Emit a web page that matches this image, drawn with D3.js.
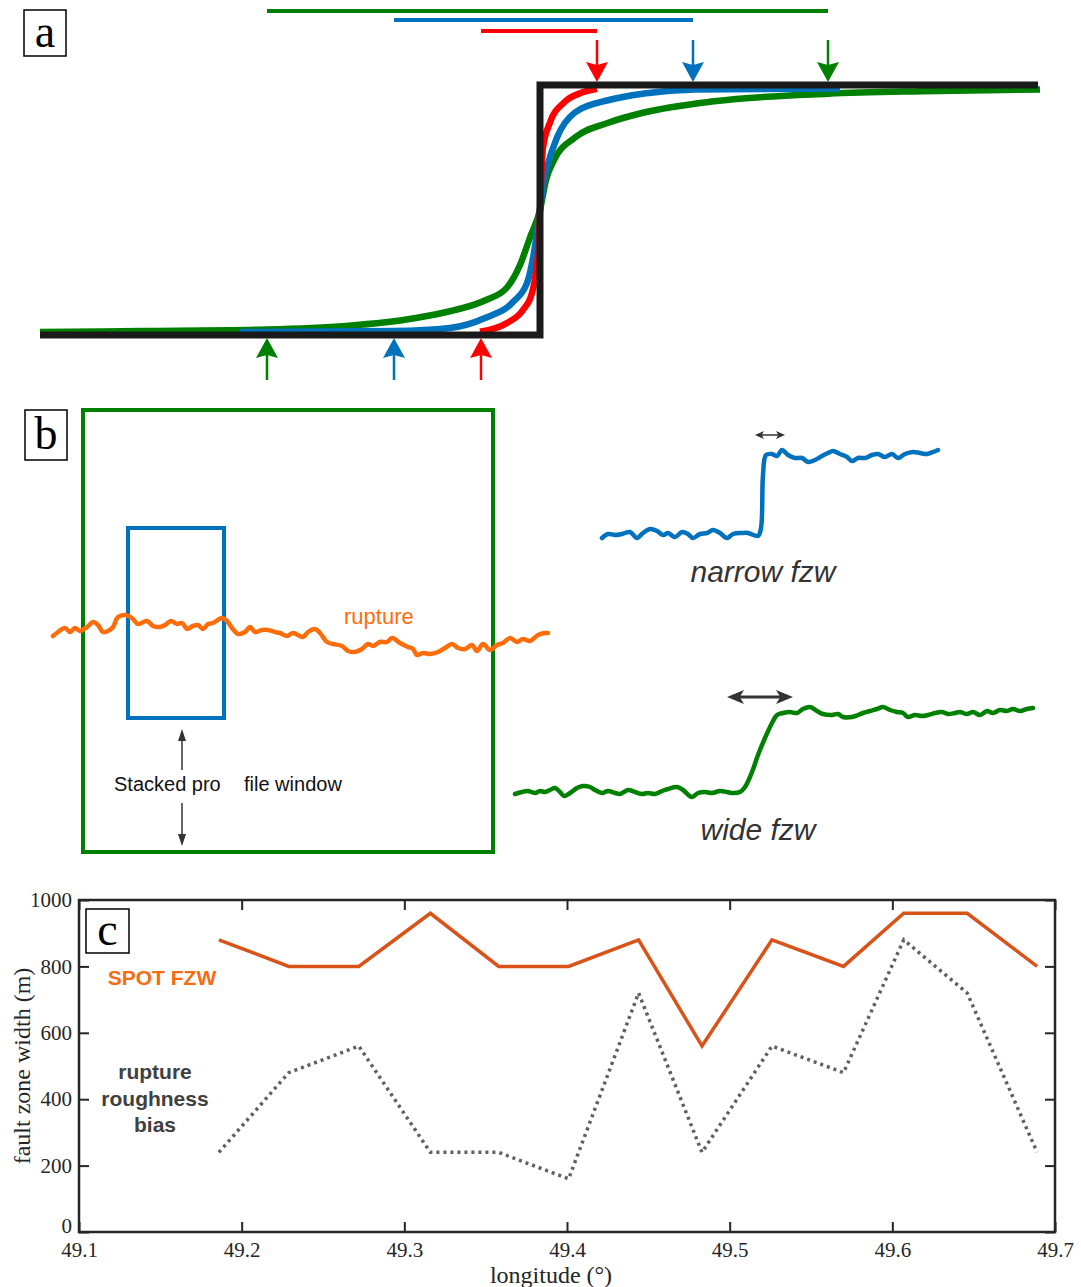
<!DOCTYPE html>
<html>
<head>
<meta charset="utf-8">
<script src="https://cdnjs.cloudflare.com/ajax/libs/d3/7.8.5/d3.min.js"></script>
<style>
  body { margin: 0; background: #fff; }
  svg { display: block; }
</style>
</head>
<body>
<div id="chart"></div>
<script>
// ---- panel a: ideal step and three smoothed versions [distance from fault, normalised offset]
var stepProfile = [[-500, 0], [0, 0], [0, 1], [498, 1]];
var greenCurve = [[-500, 0.012], [-400, 0.016], [-273, 0.022], [-194, 0.036], [-124, 0.068], [-89, 0.096],
  [-54, 0.14], [-33, 0.19], [-20, 0.28], [-10, 0.39], [0, 0.5], [6, 0.62], [14, 0.70], [35, 0.79],
  [69, 0.85], [104, 0.89], [174, 0.935], [288, 0.965], [382, 0.975], [500, 0.982]];
var blueCurve = [[-300, 0.012], [-146, 0.016], [-90, 0.028], [-55, 0.068], [-27, 0.132], [-13, 0.208],
  [-6, 0.33], [0, 0.5], [3, 0.6], [7, 0.67], [17, 0.79], [35, 0.89], [69, 0.94], [104, 0.966],
  [155, 0.982], [300, 0.986]];
var redCurve = [[-60, 0.013], [-33, 0.048], [-17, 0.10], [-8, 0.168], [-4, 0.25], [-1.5, 0.35], [0, 0.5],
  [1.5, 0.65], [3, 0.75], [10, 0.85], [24, 0.93], [42, 0.97], [57, 0.985]];
var zoneStart = [-59, -146, -273];
var zoneEnd = [57, 153, 288];
var zoneColors = ['#ff0000', '#0072bd', '#008000'];

// ---- panel b: rough profiles [distance, height]
var ruptureProfile = [[3, 4], [8, 8], [15, 12], [20, 8], [25, 12], [30, 9], [37, 13], [43, 18], [48, 15],
  [53, 8], [58, 9], [63, 13], [68, 23], [76, 25], [82, 22], [88, 16], [97, 19], [103, 14], [110, 13],
  [115, 15], [121, 19], [127, 16], [132, 17], [137, 11], [143, 14], [148, 15], [153, 11], [158, 16],
  [163, 17], [172, 22], [177, 19], [182, 12], [188, 6], [195, 8], [200, 13], [205, 8], [212, 10],
  [218, 10], [225, 8], [230, 7], [237, 4], [243, 7], [253, 3], [258, 8], [265, 11], [270, 7], [277, -2],
  [283, -4], [292, -6], [298, -11], [305, -12], [312, -9], [318, -4], [323, -6], [330, -2], [337, -2],
  [342, 2], [350, -3], [358, -7], [363, -9], [367, -15], [373, -13], [380, -14], [388, -12], [395, -8],
  [402, -4], [408, -8], [415, -9], [422, -5], [427, -11], [433, -4], [440, -10], [447, -5], [453, -3],
  [460, 2], [467, -2], [473, 1], [480, -1], [488, 5], [495, 7], [498, 7]];
var narrowProfile = [[2, 2], [8, 6], [15, 5], [22, 6], [30, 8], [37, 2], [43, 7], [50, 11], [57, 9],
  [63, 5], [68, 7], [75, 3], [82, 8], [88, 6], [93, 2], [100, 6], [107, 7], [113, 10], [120, 7],
  [127, 2], [133, 6], [142, 7], [148, 7], [158, 4], [161, 12], [163, 65], [166, 85], [172, 86],
  [177, 84], [182, 90], [188, 85], [195, 82], [202, 82], [208, 78], [215, 80], [222, 84], [228, 87],
  [233, 89], [240, 86], [247, 83], [252, 79], [258, 82], [265, 82], [272, 85], [278, 86], [285, 83],
  [292, 86], [298, 82], [305, 86], [313, 88], [320, 87], [327, 86], [333, 88], [338, 90]];
var wideProfile = [[5, 6], [12, 8], [18, 9], [25, 7], [30, 9], [35, 8], [40, 10], [45, 12], [50, 8],
  [54, 4], [60, 7], [67, 12], [73, 14], [80, 13], [85, 10], [92, 7], [98, 9], [105, 7], [110, 6],
  [118, 10], [125, 8], [132, 6], [138, 7], [145, 6], [152, 9], [158, 11], [167, 13], [173, 10],
  [182, 3], [188, 7], [195, 8], [202, 7], [210, 9], [217, 8], [223, 7], [230, 8], [235, 13], [242, 28],
  [248, 45], [255, 62], [262, 77], [267, 85], [273, 87], [280, 88], [287, 87], [293, 91], [300, 93],
  [307, 89], [313, 86], [322, 85], [328, 86], [333, 83], [342, 83], [348, 85], [353, 87], [360, 89],
  [367, 91], [373, 93], [380, 90], [387, 88], [393, 87], [398, 83], [405, 85], [412, 84], [418, 85],
  [425, 87], [432, 88], [438, 86], [445, 87], [450, 88], [457, 86], [463, 88], [470, 85], [477, 89],
  [483, 87], [490, 90], [497, 89], [503, 91], [510, 89], [517, 91], [523, 92]];
// windows along the rupture [start, end, top, bottom]
var wideWindow = [33, 443, 230, -212];
var narrowWindow = [78, 174, 112, -78];

// ---- panel c
var longitude = [49.186, 49.229, 49.272, 49.316, 49.358, 49.401, 49.444, 49.483, 49.526, 49.570, 49.607, 49.646, 49.689];
var spotFzw = [880, 800, 800, 960, 800, 800, 880, 560, 880, 800, 960, 960, 800];
var roughnessBias = [240, 480, 560, 240, 240, 160, 720, 240, 560, 480, 880, 720, 240];
var xTicks = [49.1, 49.2, 49.3, 49.4, 49.5, 49.6, 49.7];
var yTicks = [0, 200, 400, 600, 800, 1000];

var width = 1081, height = 1287;
var svg = d3.select('#chart').append('svg')
  .attr('width', width)
  .attr('height', height)
  .style('font-family', 'Liberation Sans, Arial, sans-serif');

function panelLabel(x, y, w, h, txt) {
  svg.append('rect').attr('x', x).attr('y', y).attr('width', w).attr('height', h)
     .attr('fill', '#fff').attr('stroke', '#000').attr('stroke-width', 1.5);
  svg.append('text').attr('x', x + w / 2).attr('y', y + h / 2 + 14)
     .attr('text-anchor', 'middle')
     .style('font-family', 'Liberation Serif, Times New Roman, serif')
     .style('font-size', '46px')
     .text(txt);
}

function hDoubleArrow(g, x1, x2, y, head, half, sw, color) {
  g.append('line').attr('x1', x1 + head * 0.6).attr('x2', x2 - head * 0.6).attr('y1', y).attr('y2', y)
   .attr('stroke', color).attr('stroke-width', sw);
  g.append('path').attr('fill', color)
   .attr('d', 'M' + x1 + ',' + y + 'L' + (x1 + head) + ',' + (y - half) + 'L' + (x1 + head * 0.75) + ',' + y +
              'L' + (x1 + head) + ',' + (y + half) + 'Z');
  g.append('path').attr('fill', color)
   .attr('d', 'M' + x2 + ',' + y + 'L' + (x2 - head) + ',' + (y - half) + 'L' + (x2 - head * 0.75) + ',' + y +
              'L' + (x2 - head) + ',' + (y + half) + 'Z');
}

// ================= panel a =================
var xA = d3.scaleLinear().domain([-500, 500]).range([40, 1040]);
var yA = d3.scaleLinear().domain([0, 1]).range([335, 85]);
var lineA = d3.line().x(function(d) { return xA(d[0]); }).y(function(d) { return yA(d[1]); });
var smoothA = d3.line().x(function(d) { return xA(d[0]); }).y(function(d) { return yA(d[1]); })
  .curve(d3.curveMonotoneX);

var gA = svg.append('g');
[greenCurve, blueCurve, redCurve].forEach(function(c, i) {
  gA.append('path').attr('d', smoothA(c)).attr('fill', 'none')
    .attr('stroke', [zoneColors[2], zoneColors[1], zoneColors[0]][i]).attr('stroke-width', 6.5);
});
gA.append('path').attr('d', lineA(stepProfile)).attr('fill', 'none')
  .attr('stroke', '#1a1a1a').attr('stroke-width', 7).attr('stroke-linejoin', 'miter');

var barY = [31, 20, 11];
zoneColors.forEach(function(col, i) {
  var x1 = xA(zoneStart[i]), x2 = xA(zoneEnd[i]);
  gA.append('line').attr('x1', x1).attr('x2', x2).attr('y1', barY[i]).attr('y2', barY[i])
    .attr('stroke', col).attr('stroke-width', 4);
  // down arrow at the top end of the zone
  gA.append('line').attr('x1', x2).attr('x2', x2).attr('y1', 40).attr('y2', 66)
    .attr('stroke', col).attr('stroke-width', 2.5);
  gA.append('path').attr('fill', col)
    .attr('d', 'M' + (x2 - 11) + ',62L' + x2 + ',65L' + (x2 + 11) + ',62L' + x2 + ',82Z');
  // up arrow at the bottom end of the zone
  gA.append('line').attr('x1', x1).attr('x2', x1).attr('y1', 380).attr('y2', 354)
    .attr('stroke', col).attr('stroke-width', 2.5);
  gA.append('path').attr('fill', col)
    .attr('d', 'M' + (x1 - 11) + ',358L' + x1 + ',355L' + (x1 + 11) + ',358L' + x1 + ',338Z');
});
panelLabel(24, 10, 42, 46, 'a');

// ================= panel b =================
var xR = d3.scaleLinear().domain([0, 500]).range([50, 550]);
var yR = d3.scaleLinear().domain([-20, 30]).range([660, 610]);
var xN = d3.scaleLinear().domain([0, 340]).range([600, 940]);
var yN = d3.scaleLinear().domain([0, 90]).range([540, 450]);
var xW = d3.scaleLinear().domain([0, 525]).range([510, 1035]);
var yW = d3.scaleLinear().domain([0, 100]).range([800, 700]);

var gB = svg.append('g');
function windowRect(w, col) {
  gB.append('rect').attr('x', xR(w[0])).attr('y', yR(w[2]))
    .attr('width', xR(w[1]) - xR(w[0])).attr('height', yR(w[3]) - yR(w[2]))
    .attr('fill', 'none').attr('stroke', col).attr('stroke-width', 4);
}
windowRect(wideWindow, '#008000');
windowRect(narrowWindow, '#0072bd');

function roughLine(data, sx, sy, col) {
  gB.append('path')
    .attr('d', d3.line().x(function(d) { return sx(d[0]); }).y(function(d) { return sy(d[1]); })
      .curve(d3.curveCatmullRom)(data))
    .attr('fill', 'none').attr('stroke', col).attr('stroke-width', 4.5)
    .attr('stroke-linejoin', 'round').attr('stroke-linecap', 'round');
}
roughLine(ruptureProfile, xR, yR, '#ff6d0a');
roughLine(narrowProfile, xN, yN, '#0072bd');
roughLine(wideProfile, xW, yW, '#008000');

gB.append('text').attr('x', 344).attr('y', 624).attr('fill', '#ff6d0a')
  .style('font-size', '22px').text('rupture');

hDoubleArrow(gB, xN(155), xN(185), yN(105), 9, 4, 1.5, '#333');
hDoubleArrow(gB, xW(217), xW(283), yW(103), 17, 7, 3, '#333');

gB.append('text').attr('x', 763).attr('y', 582).attr('text-anchor', 'middle')
  .attr('fill', '#333').style('font-size', '30px').style('font-style', 'italic').text('narrow fzw');
gB.append('text').attr('x', 758).attr('y', 840).attr('text-anchor', 'middle')
  .attr('fill', '#333').style('font-size', '30px').style('font-style', 'italic').text('wide fzw');

// stacked profile window arrow
var ax = 182;
gB.append('line').attr('x1', ax).attr('x2', ax).attr('y1', 736).attr('y2', 770)
  .attr('stroke', '#333').attr('stroke-width', 1.5);
gB.append('path').attr('fill', '#333').attr('d', 'M' + (ax - 4) + ',741L' + ax + ',729L' + (ax + 4) + ',741Z');
gB.append('line').attr('x1', ax).attr('x2', ax).attr('y1', 803).attr('y2', 840)
  .attr('stroke', '#333').attr('stroke-width', 1.5);
gB.append('path').attr('fill', '#333').attr('d', 'M' + (ax - 4) + ',834L' + ax + ',846L' + (ax + 4) + ',834Z');
gB.append('text').attr('x', 114).attr('y', 791).attr('fill', '#111').style('font-size', '20px').text('Stacked pro');
gB.append('text').attr('x', 244).attr('y', 791).attr('fill', '#111').style('font-size', '20px').text('file window');

panelLabel(25, 410, 42, 50, 'b');

// ================= panel c =================
var xC = d3.scaleLinear().domain([49.1, 49.7]).range([79, 1055]);
var yC = d3.scaleLinear().domain([0, 1000]).range([1232, 900]);
var gC = svg.append('g');

function styleAxis(g) {
  g.select('.domain').remove();
  g.selectAll('.tick line').attr('stroke', '#262626').attr('stroke-width', 2);
  g.selectAll('.tick text').attr('fill', '#262626')
   .style('font-family', 'Liberation Serif, Times New Roman, serif').style('font-size', '21px');
}
gC.append('g').attr('transform', 'translate(0,1232)')
  .call(d3.axisBottom(xC).tickValues(xTicks).tickFormat(d3.format('.1f')).tickSizeInner(-10).tickSizeOuter(0).tickPadding(10))
  .call(styleAxis);
gC.append('g').attr('transform', 'translate(0,900)')
  .call(d3.axisTop(xC).tickValues(xTicks).tickFormat('').tickSizeInner(-10).tickSizeOuter(0))
  .call(styleAxis);
gC.append('g').attr('transform', 'translate(79,0)')
  .call(d3.axisLeft(yC).tickValues(yTicks).tickFormat(d3.format('d')).tickSizeInner(-10).tickSizeOuter(0).tickPadding(7))
  .call(styleAxis)
  .call(function(g) {
    // lift the "0" label a little so it clears the first longitude label
    g.selectAll('.tick text').filter(function(d) { return d === 0; }).attr('dy', '0.02em');
  });
gC.append('g').attr('transform', 'translate(1055,0)')
  .call(d3.axisRight(yC).tickValues(yTicks).tickFormat('').tickSizeInner(-10).tickSizeOuter(0))
  .call(styleAxis);
gC.append('rect').attr('x', 79).attr('y', 900).attr('width', 976).attr('height', 332)
  .attr('fill', 'none').attr('stroke', '#262626').attr('stroke-width', 2.5);

var lineC = d3.line().x(function(d, i) { return xC(longitude[i]); }).y(function(d) { return yC(d); });
gC.append('path').attr('d', lineC(roughnessBias)).attr('fill', 'none')
  .attr('stroke', '#606060').attr('stroke-width', 3.5).attr('stroke-dasharray', '3,4');
gC.append('path').attr('d', lineC(spotFzw)).attr('fill', 'none')
  .attr('stroke', '#d95319').attr('stroke-width', 3.5).attr('stroke-linejoin', 'miter');

gC.append('text').attr('x', 162).attr('y', 985).attr('text-anchor', 'middle')
  .attr('fill', '#f56c12').style('font-size', '21px').style('font-weight', 'bold').text('SPOT FZW');
['rupture', 'roughness', 'bias'].forEach(function(t, i) {
  gC.append('text').attr('x', 155).attr('y', 1079 + i * 26.5).attr('text-anchor', 'middle')
    .attr('fill', '#404040').style('font-size', '21px').style('font-weight', 'bold').text(t);
});

gC.append('text').attr('transform', 'translate(30,1066) rotate(-90)').attr('text-anchor', 'middle')
  .attr('fill', '#262626').style('font-family', 'Liberation Serif, Times New Roman, serif')
  .style('font-size', '24px').text('fault zone width (m)');
gC.append('text').attr('x', 551).attr('y', 1283).attr('text-anchor', 'middle')
  .attr('fill', '#262626').style('font-family', 'Liberation Serif, Times New Roman, serif')
  .style('font-size', '24px').text('longitude (°)');

panelLabel(86, 909, 43, 44, 'c');
</script>
</body>
</html>
